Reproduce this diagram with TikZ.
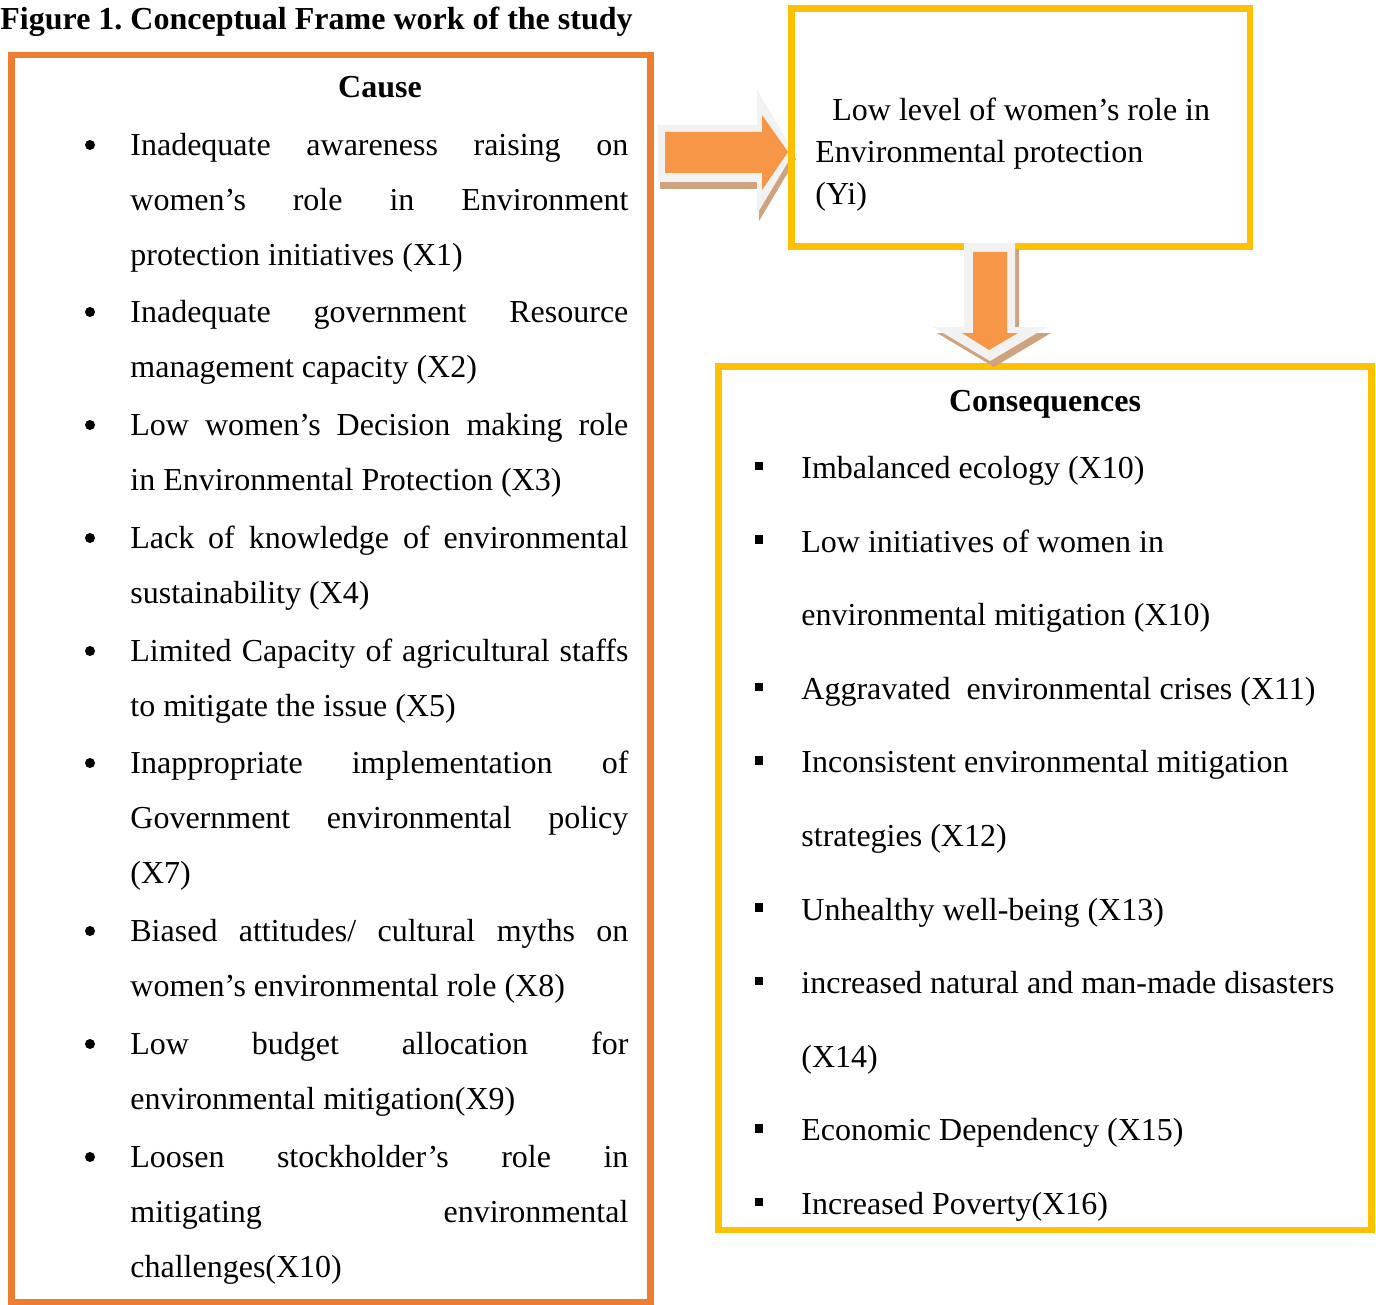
\documentclass[tikz,border=0pt]{standalone}
\usepackage{fontspec}
\setmainfont{Liberation Serif}
\usetikzlibrary{positioning,fit}
\definecolor{boxorange}{HTML}{ED7D31}
\definecolor{boxyellow}{HTML}{FFC000}
\definecolor{arrowfill}{HTML}{F79646}
\definecolor{arrowrim}{HTML}{F2F2F2}
\definecolor{arrowshade}{HTML}{CFA37F}
\newcommand{\jline}[1]{\makebox[249pt][s]{#1}}
\frenchspacing

\begin{document}
\begin{tikzpicture}[x=0.5pt,y=-0.5pt,
  causeframe/.style={draw=boxorange,line width=3.25pt,inner sep=0pt},
  yframe/.style={draw=boxyellow,line width=3.25pt,inner sep=0pt},
  heading/.style={anchor=base,inner sep=0pt,font=\bfseries\fontsize{16}{19}\selectfont},
  cause/.style={anchor=north west,inner sep=0pt,align=left,font=\fontsize{16}{27.5}\selectfont},
  conseq/.style={anchor=north west,inner sep=0pt,align=left,font=\fontsize{16}{36.8}\selectfont},
  dot/.style={circle,fill=black,inner sep=0pt,minimum size=5pt},
  sq/.style={rectangle,fill=black,inner sep=0pt,minimum size=4.2pt}]
  \useasboundingbox (0,0) rectangle (1376,1305);

  \node[heading,anchor=base west] (title) at (0,30) {Figure 1. Conceptual Frame work of the study};

  \fill[arrowshade,shift={(2,7)}] (658,125) -- (757,125) -- (757,90) -- (794,152) -- (757,214) -- (757,182) -- (658,182) -- cycle;
  \fill[arrowrim] (658,125) -- (757,125) -- (757,90) -- (794,152) -- (757,214) -- (757,182) -- (658,182) -- cycle;
  \fill[arrowfill] (665,132) -- (762,132) -- (762,115) -- (788,152) -- (762,190) -- (762,173) -- (665,173) -- cycle;

  \node[causeframe,fit={(11.5,55) (650.5,1302)}] (cause) {};
  \node[yframe,fit={(791.5,8.5) (1250,246.5)}] (yi) {};
  \node[yframe,fit={(718.5,366.5) (1371.5,1230)}] (conseq) {};

  \fill[arrowshade,shift={(4,6)}] (964,243) -- (1015,243) -- (1015,327) -- (1047,327) -- (990,361) -- (933,327) -- (964,327) -- cycle;
  \fill[arrowrim] (964,243) -- (1015,243) -- (1015,327) -- (1047,327) -- (990,361) -- (933,327) -- (964,327) -- cycle;
  \fill[arrowfill] (973,252) -- (1007,252) -- (1007,333) -- (1018,333) -- (989,350) -- (962,333) -- (973,333) -- cycle;

  \node[heading] (causehead) at (380,98) {Cause};
  \node[cause] (c1) at (130,116.5) {\strut\jline{Inadequate awareness raising on}\\\jline{women’s role in Environment}\\protection initiatives (X1)};
  \node[cause] (c2) at (130,283.5) {\strut\jline{Inadequate government Resource}\\management capacity (X2)};
  \node[cause] (c3) at (130,396.5) {\strut\jline{Low women’s Decision making role}\\in Environmental Protection (X3)};
  \node[cause] (c4) at (130,509.5) {\strut\jline{Lack of knowledge of environmental}\\sustainability (X4)};
  \node[cause] (c5) at (130,622.5) {\strut\jline{Limited Capacity of agricultural staffs}\\to mitigate the issue (X5)};
  \node[cause] (c6) at (130,734.5) {\strut\jline{Inappropriate implementation of}\\\jline{Government environmental policy}\\(X7)};
  \node[cause] (c7) at (130,902.5) {\strut\jline{Biased attitudes/ cultural myths on}\\women’s environmental role (X8)};
  \node[cause] (c8) at (130,1015.5) {\strut\jline{Low budget allocation for}\\environmental mitigation(X9)};
  \node[cause] (c9) at (130,1128.5) {\strut\jline{Loosen stockholder’s role in}\\\jline{mitigating environmental}\\challenges(X10)};
  \foreach \y [count=\i] in {155,322,435,548,661,773,941,1054,1167}
    \node[dot] (b\i) at (90,\y-10) {};

  \node[anchor=north west,inner sep=0pt,align=left,font=\fontsize{16}{21}\selectfont] (yitext) at (815,90.6)
    {\strut\hspace*{8.5pt}Low level of women’s role in\\Environmental protection\\(Yi)};

  \node[heading] (conhead) at (1045,411) {Consequences};
  \node[conseq] (k1) at (801,426.5) {\strut Imbalanced ecology (X10)};
  \node[conseq] (k2) at (801,500.1) {\strut Low initiatives of women in\\environmental mitigation (X10)};
  \node[conseq] (k3) at (801,647.3) {\strut Aggravated\ \ environmental crises (X11)};
  \node[conseq] (k4) at (801,720.9) {\strut Inconsistent environmental mitigation\\strategies (X12)};
  \node[conseq] (k5) at (801,868.1) {\strut Unhealthy well-being (X13)};
  \node[conseq] (k6) at (801,941.7) {\strut increased natural and man-made disasters\\(X14)};
  \node[conseq] (k7) at (801,1088.9) {\strut Economic Dependency (X15)};
  \node[conseq] (k8) at (801,1162.5) {\strut Increased Poverty(X16)};
  \foreach \n [count=\i] in {0,1,3,4,6,7,9,10}
    \node[sq] (s\i) at (759,478+73.6*\n-12) {};
\end{tikzpicture}
\end{document}
